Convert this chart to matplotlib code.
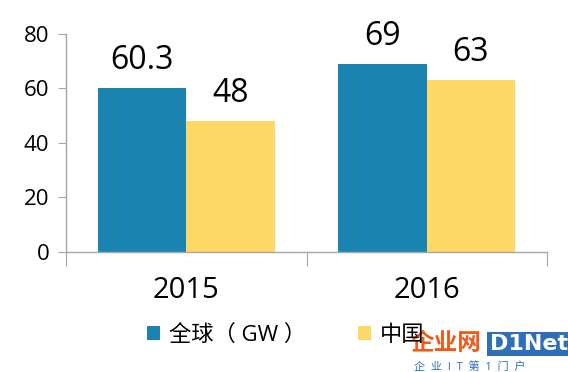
import matplotlib
matplotlib.use('Agg')
import matplotlib.pyplot as plt
import numpy as np

plt.rcParams['font.family'] = ['Open Sans', 'Noto Sans CJK SC', 'DejaVu Sans']

# 数据
years = ['2015', '2016']
global_gw = [60.3, 69]
china_gw = [48, 63]
global_labels = ['60.3', '69']
china_labels = ['48', '63']
series_names = ['全球（ GW ）', '中国']

blue = '#1a83b0'
yellow = '#fdd866'
grey = '#a6a6a6'

fig = plt.figure(figsize=(5.68, 3.72), dpi=100)
ax = fig.add_axes([66 / 568, 1 - 252 / 372, (547 - 66) / 568, (252 - 34) / 372])

x = np.arange(len(years))
w = 0.367
b1 = ax.bar(x - w / 2, global_gw, w, color=blue, label=series_names[0])
b2 = ax.bar(x + w / 2, china_gw, w, color=yellow, label=series_names[1])

for bars, labels in [(b1, global_labels), (b2, china_labels)]:
    for rect, lab in zip(bars, labels):
        ax.annotate(lab, (rect.get_x() + rect.get_width() / 2, rect.get_height()),
                    xytext=(0, 8), textcoords='offset points',
                    ha='center', va='bottom', fontsize=23)

ax.set_xlim(-0.5, 1.5)
ax.set_ylim(0, 80)
ax.set_yticks([0, 20, 40, 60, 80])
ax.tick_params(axis='y', labelsize=16, length=6, color=grey, pad=6)

# 类别刻度在分组边界处
ax.set_xticks([-0.5, 0.5, 1.5])
ax.set_xticklabels([])
ax.set_xticks(x, minor=True)
ax.set_xticklabels(years, minor=True, fontsize=21)
ax.tick_params(axis='x', which='major', length=10, color=grey)
ax.tick_params(axis='x', which='minor', length=0, pad=17)

for s in ['top', 'right']:
    ax.spines[s].set_visible(False)
for s in ['left', 'bottom']:
    ax.spines[s].set_color(grey)
    ax.spines[s].set_linewidth(1.0)

leg = fig.legend(loc='center', bbox_to_anchor=(0.503, 1 - 335 / 372), ncol=2,
                 frameon=False, fontsize=16, handlelength=0.6, handleheight=0.6,
                 handletextpad=0.4, columnspacing=2.3)

# 水印
fig.text(0.722, 1 - 344 / 372, '企业网', color='#f05a1a', fontsize=17,
         fontweight='bold', ha='left', va='center')
fig.text(0.862, 1 - 344 / 372, 'D1Net', color='white', fontsize=16, fontweight='bold',
         ha='left', va='center', family='DejaVu Sans',
         bbox=dict(boxstyle='square,pad=0.1', fc='#2e6fb8', ec='none'))
fig.text(0.728, 1 - 367 / 372, '企  业  I  T  第  1  门  户', color='#2e6fb8', fontsize=8,
         ha='left', va='center')

fig.savefig('out.png', dpi=100)
